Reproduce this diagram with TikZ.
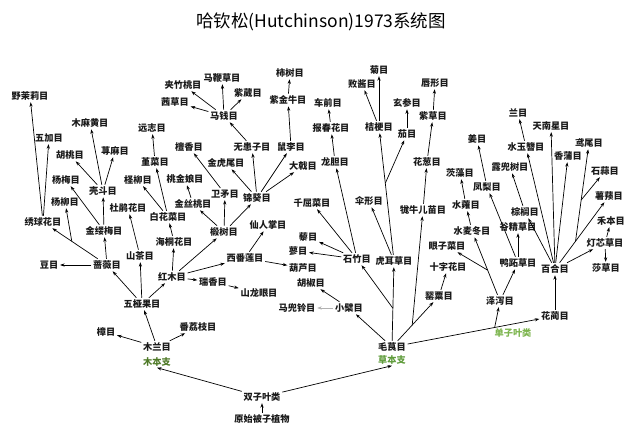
\documentclass[tikz,border=0pt]{standalone}
\usepackage{fontspec}
\setmainfont{Noto Sans CJK SC}
\usepackage{xcolor}
\usetikzlibrary{arrows.meta,positioning,calc}
\definecolor{muben}{HTML}{4F7A28}
\definecolor{caoben}{HTML}{5E9B3A}
\definecolor{danzi}{HTML}{7DB54F}

\begin{document}
\begin{tikzpicture}[x=1pt, y=-1pt, line width=0.7pt,
    main/.style = {font=\fontsize{9.2}{10}\selectfont\bfseries, text=black!90, inner sep=1.5pt},
    zhi/.style = {font=\fontsize{9.2}{10}\selectfont\bfseries, inner sep=1pt},
    ar/.style = {-{Stealth[length=4.5pt,width=3.2pt]}}]
    \useasboundingbox (0,0) rectangle (640,435);

    \node (title) at (321,22) {\fontsize{17.5}{20}\selectfont 哈钦松(Hutchinson)1973系统图};

    % woody branch
    \node[main] (ml) at (157,347) {木兰目};
    \node[zhi, text=muben] (mbz) at (157,362) {木本支};
    \node[main] (zhang) at (106,332) {樟目};
    \node[main] (flz) at (198,327) {番荔枝目};
    \node[main] (wyg) at (142,304) {五桠果目};
    \node[main] (qw) at (107,265) {蔷薇目};
    \node[main] (dou) at (49,265) {豆目};
    \node[main] (xq) at (43,222) {绣球花目};
    \node[main] (ymL) at (30,96) {野茉莉目};
    \node[main] (wj) at (49,138) {五加目};
    \node[main] (yl) at (65,202) {杨柳目};
    \node[main] (jlm) at (104,231) {金缕梅目};
    \node[main] (ym) at (66,180) {杨梅目};
    \node[main] (kd) at (103,191) {壳斗目};
    \node[main] (ht) at (70,155) {胡桃目};
    \node[main] (mmh) at (90,123) {木麻黄目};
    \node[main] (xm) at (115,151) {荨麻目};
    \node[main] (sc) at (140,256) {山茶目};
    \node[main] (djh) at (128,208) {杜鹃花目};
    \node[main] (hm) at (172,277) {红木目};
    \node[main] (htk) at (174,242) {海桐花目};
    \node[main] (bhc) at (168,217) {白花菜目};
    \node[main] (cl) at (138,180) {柽柳目};
    \node[main] (jc) at (155,162) {堇菜目};
    \node[main] (yz) at (152,128) {远志目};
    \node[main] (rx) at (213,282) {瑞香目};
    \node[main] (sly) at (259,293) {山龙眼目};
    \node[main] (xfl) at (245,258) {西番莲目};
    \node[main] (hl) at (303,268) {葫芦目};
    \node[main] (xrz) at (268,225) {仙人掌目};
    \node[main] (dsh) at (224,232) {椴树目};
    \node[main] (jst) at (193,204) {金丝桃目};
    \node[main] (tjn) at (185,179) {桃金娘目};
    \node[main] (wm) at (225,194) {卫矛目};
    \node[main] (tx) at (189,147) {檀香目};
    \node[main] (jk) at (257,198) {锦葵目};
    \node[main] (jhw) at (226,163) {金虎尾目};
    \node[main] (whz) at (252,147) {无患子目};
    \node[main] (sl) at (291,147) {鼠李目};
    \node[main] (dj) at (303,166) {大戟目};
    \node[main] (mq) at (224,116) {马钱目};
    \node[main] (jzt) at (183,85) {夹竹桃目};
    \node[main] (qc) at (175,102) {茜草目};
    \node[main] (mbc) at (222,78) {马鞭草目};
    \node[main] (zw) at (248,93) {紫葳目};
    \node[main] (zjn) at (288,100) {紫金牛目};
    \node[main] (ss) at (290,73) {柿树目};

    % herb branch
    \node[main] (mg) at (392,347) {毛茛目};
    \node[zhi, text=caoben] (cbz) at (392,360) {草本支};
    \node[main] (xb) at (349,308) {小檗目};
    \node[main] (mdl) at (297,308) {马兜铃目};
    \node[main] (hj) at (311,283) {胡椒目};
    \node[main] (hec) at (394,261) {虎耳草目};
    \node[main] (szh) at (357,259) {石竹目};
    \node[main] (li) at (308,237) {藜目};
    \node[main] (liao) at (298,251) {蓼目};
    \node[main] (qq) at (312,203) {千屈菜目};
    \node[main] (ld) at (335,162) {龙胆目};
    \node[main] (bch) at (331,128) {报春花目};
    \node[main] (cq) at (328,103) {车前目};
    \node[main] (sx) at (369,201) {伞形目};
    \node[main] (jg) at (379,127) {桔梗目};
    \node[main] (bj) at (362,84) {败酱目};
    \node[main] (ju) at (379,70) {菊目};
    \node[main] (qie) at (407,134) {茄目};
    \node[main] (xs) at (407,103) {玄参目};
    \node[main] (ys) at (439,296) {罂粟目};
    \node[main] (szhm) at (448,267) {十字花目};
    \node[main] (mne) at (423,210) {牻牛儿苗目};
    \node[main] (hc) at (427,162) {花葱目};
    \node[main] (zc) at (433,116) {紫草目};
    \node[main] (cx) at (435,83) {唇形目};

    % monocots
    \node[main] (hlan) at (555,316) {花蔺目};
    \node[zhi, text=danzi] (dzy) at (513,333) {单子叶类};
    \node[main] (zx) at (500,301) {泽泻目};
    \node[main] (smd) at (472,231) {水麦冬目};
    \node[main] (yzcai) at (447,246) {眼子菜目};
    \node[main] (sy) at (466,205) {水蕹目};
    \node[main] (cz) at (460,173) {茨藻目};
    \node[main] (yazhi) at (518,263) {鸭跖草目};
    \node[main] (fl) at (487,187) {凤梨目};
    \node[main] (jiang) at (477,139) {姜目};
    \node[main] (jjc) at (518,227) {谷精草目};
    \node[main] (bh) at (555,269) {百合目};
    \node[main] (zl) at (525,212) {棕榈目};
    \node[main] (ldsh) at (510,167) {露兜树目};
    \node[main] (syz) at (526,147) {水玉簪目};
    \node[main] (lan) at (518,113) {兰目};
    \node[main] (tnx) at (551,126) {天南星目};
    \node[main] (xp) at (568,156) {香蒲目};
    \node[main] (yw) at (589,143) {鸢尾目};
    \node[main] (ssuan) at (605,171) {石蒜目};
    \node[main] (shuy) at (609,196) {薯蓣目};
    \node[main] (hb) at (611,221) {禾本目};
    \node[main] (dxc) at (605,243) {灯芯草目};
    \node[main] (shac) at (606,268) {莎草目};

    % root
    \node[main] (sz) at (262,397) {双子叶类};
    \node[main] (ysbz) at (262,419) {原始被子植物};

    % branch points
    \coordinate (qwb) at ($(qw)!0.55!(xq)$);
    \coordinate (mgb) at ($(mg)!0.45!(hec)$);
    \coordinate (hecb) at ($(hec)!0.58!(jg)$);
    \coordinate (ysb) at ($(mg)!0.43!(ys)$);
    \coordinate (hlb) at ($(mg)!0.63!(hlan)$);
    \coordinate (zxb) at ($(zx)!0.44!(smd)$);
    \coordinate (bhb) at ($(bh)!0.38!(shuy)$);
    \coordinate (ywb) at ($(bhb)!0.42!(yw)$);

    \draw[ar] (ysbz) -- (sz);
    \draw[ar] (sz) -- (mbz.south);
    \draw[ar] (sz) -- (cbz.south);

    \draw[ar] (ml) -- (zhang);
    \draw[ar] (ml) -- (flz);
    \draw[ar] (ml) -- (wyg);
    \draw[ar] (wyg) -- (qw);
    \draw[ar] (wyg) -- (sc);
    \draw[ar] (wyg) -- (hm);
    \draw[ar] (qw) -- (dou);
    \draw[ar] (qw) -- (xq);
    \draw[ar] (qwb) -- (yl);
    \draw[ar] (qw) -- (jlm);
    \draw[ar] (xq) -- (ymL);
    \draw[ar] (xq) -- (wj);
    \draw[ar] (jlm) -- (ym);
    \draw[ar] (jlm) -- (kd);
    \draw[ar] (kd) -- (ht);
    \draw[ar] (kd) -- (mmh);
    \draw[ar] (kd) -- (xm);
    \draw[ar] (sc) -- (djh);
    \draw[ar] (hm) -- (htk);
    \draw[ar] (hm) -- (dsh);
    \draw[ar] (hm) -- (xfl);
    \draw[ar] (hm) -- (rx);
    \draw[ar] (rx) -- (sly);
    \draw[ar] (xfl) -- (hl);
    \draw[ar] (xfl) -- (xrz);
    \draw[ar] (htk) -- (bhc);
    \draw[ar] (bhc) -- (cl);
    \draw[ar] (bhc) -- (jc);
    \draw[ar] (jc) -- (yz);
    \draw[ar] (dsh) -- (wm);
    \draw[ar] (dsh) -- (jk);
    \draw[ar] (dsh) -- (jst);
    \draw[ar] (jst) -- (tjn);
    \draw[ar] (wm) -- (tx);
    \draw[ar] (jk) -- (jhw);
    \draw[ar] (jk) -- (whz);
    \draw[ar] (jk) -- (sl);
    \draw[ar] (jk) -- (dj);
    \draw[ar] (whz) -- (mq);
    \draw[ar] (mq) -- (mbc);
    \draw[ar] (mq) -- (zw);
    \draw[ar] (mq) -- (jzt);
    \draw[ar] (mq) -- (qc);
    \draw[ar] (sl) -- (zjn);
    \draw[ar] (zjn) -- (ss);

    \draw[ar] (mg) -- (xb);
    \draw[ar] (xb) -- (hj);
    \draw[ar, gray!60, line width=0.4pt] (xb) -- (mdl);
    \draw[ar] (mg) -- (hec);
    \draw[ar] (mgb) -- (szh);
    \draw[ar] (szh) -- (ld);
    \draw[ar] (szh) -- (qq);
    \draw[ar] (szh) -- (li);
    \draw[ar] (szh) -- (liao);
    \draw[ar] (ld) -- (bch);
    \draw[ar] (bch) -- (cq);
    \draw[ar] (hec) -- (sx);
    \draw[ar] (hec) -- (jg);
    \draw[ar] (hecb) -- (qie);
    \draw[ar] (qie) -- (xs);
    \draw[ar] (jg) -- (bj);
    \draw[ar] (jg) -- (ju);
    \draw[ar] (mg) -- (ys);
    \draw[ar] (ys) -- (szhm);
    \draw[ar] (ysb) -- (mne);
    \draw[ar] (mne) -- (hc);
    \draw[ar] (hc) -- (zc);
    \draw[ar] (zc) -- (cx);

    \draw[ar] (mg) -- (hlan);
    \draw[ar] (hlb) -- (zx);
    \draw[ar] (zx) -- (smd);
    \draw[ar] (zxb) -- (yzcai);
    \draw[ar] (smd) -- (sy);
    \draw[ar] (sy) -- (cz);
    \draw[ar] (zx) -- (yazhi);
    \draw[ar] (yazhi) -- (fl);
    \draw[ar] (yazhi) -- (jjc);
    \draw[ar] (fl) -- (jiang);
    \draw[ar] (hlan) -- (bh);
    \draw[ar] (bh) -- (zl);
    \draw[ar] (zl) -- (ldsh);
    \draw[ar] (bh) -- (syz);
    \draw[ar] (syz) -- (lan);
    \draw[ar] (bh) -- (tnx);
    \draw[ar] (bh) -- (xp);
    \draw[ar] (bh) -- (shuy);
    \draw[ar] (bhb) -- (yw);
    \draw[ar] (ywb) -- (ssuan);
    \draw[ar] (bh) -- (dxc);
    \draw[ar] (dxc) -- (hb);
    \draw[ar] (dxc) -- (shac);

\end{tikzpicture}
\end{document}
